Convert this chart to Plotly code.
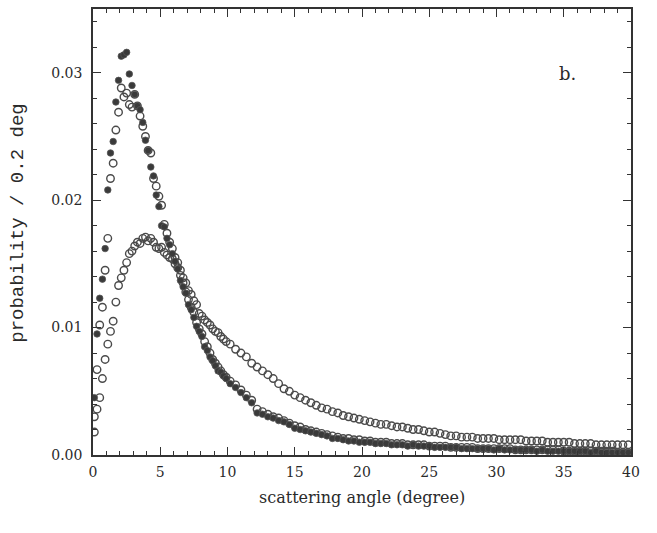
import numpy as np
import plotly.graph_objects as go

# bin centres (0.2 deg bins; tail shown every other bin)
x_head = [round(0.1 + 0.2 * i, 1) for i in range(50)]
x_tail = [round(10.2 + 0.4 * i, 1) for i in range(75)]
angles = x_head + x_tail

# narrow distribution, filled symbols
narrow_filled = [
    0.0045, 0.0095, 0.0123, 0.0138, 0.0162, 0.0208, 0.0237, 0.0246, 0.0277, 0.0294,
    0.0313, 0.0314, 0.0316, 0.0299, 0.0290, 0.0283, 0.0274, 0.0271, 0.0261, 0.0247,
    0.0239, 0.0226, 0.0219, 0.0204, 0.0195, 0.0180, 0.0179, 0.0170, 0.0165, 0.0158,
    0.0152, 0.0146, 0.0137, 0.0132, 0.0127, 0.0118, 0.0114, 0.0108, 0.0101, 0.0097,
    0.0093, 0.0085, 0.0082, 0.0077, 0.0074, 0.0070, 0.0066, 0.0065, 0.0062, 0.0060,
    0.0056, 0.0053, 0.0049, 0.0045, 0.0041, 0.0033, 0.0032, 0.0030, 0.0029, 0.0027,
    0.0026, 0.0024, 0.0021, 0.0020, 0.0019, 0.0018, 0.0017, 0.0016, 0.0015, 0.0013,
    0.0013, 0.0012, 0.0011, 0.0011, 0.0010, 0.0010, 0.0010, 0.0009, 0.0009, 0.0009,
    0.0008, 0.0008, 0.0008, 0.0007, 0.0008, 0.0007, 0.0007, 0.0007, 0.0006, 0.0006,
    0.0006, 0.0006, 0.0006, 0.0005, 0.0005, 0.0005, 0.0005, 0.0005, 0.0005, 0.0004,
    0.0005, 0.0004, 0.0004, 0.0004, 0.0004, 0.0004, 0.0004, 0.0003, 0.0004, 0.0003,
    0.0003, 0.0003, 0.0003, 0.0003, 0.0003, 0.0003, 0.0003, 0.0002, 0.0003, 0.0002,
    0.0002, 0.0002, 0.0002, 0.0002, 0.0002,
]

# narrow distribution, open symbols
narrow_open = [
    0.0030, 0.0067, 0.0102, 0.0116, 0.0145, 0.0170, 0.0217, 0.0229, 0.0255, 0.0269,
    0.0288, 0.0281, 0.0284, 0.0275, 0.0273, 0.0283, 0.0274, 0.0266, 0.0258, 0.0250,
    0.0239, 0.0237, 0.0217, 0.0211, 0.0203, 0.0196, 0.0181, 0.0174, 0.0167, 0.0162,
    0.0155, 0.0147, 0.0141, 0.0135, 0.0128, 0.0122, 0.0116, 0.0112, 0.0104, 0.0099,
    0.0095, 0.0089, 0.0085, 0.0080, 0.0075, 0.0072, 0.0069, 0.0066, 0.0063, 0.0061,
    0.0058, 0.0055, 0.0051, 0.0047, 0.0043, 0.0036, 0.0034, 0.0032, 0.0030, 0.0029,
    0.0027, 0.0025, 0.0023, 0.0022, 0.0020, 0.0019, 0.0018, 0.0017, 0.0016, 0.0015,
    0.0014, 0.0013, 0.0013, 0.0012, 0.0012, 0.0011, 0.0011, 0.0010, 0.0010, 0.0010,
    0.0009, 0.0009, 0.0009, 0.0008, 0.0008, 0.0008, 0.0008, 0.0007, 0.0007, 0.0007,
    0.0007, 0.0006, 0.0006, 0.0006, 0.0006, 0.0006, 0.0005, 0.0005, 0.0005, 0.0005,
    0.0005, 0.0005, 0.0005, 0.0004, 0.0004, 0.0004, 0.0004, 0.0004, 0.0004, 0.0004,
    0.0004, 0.0004, 0.0003, 0.0003, 0.0003, 0.0003, 0.0003, 0.0003, 0.0003, 0.0003,
    0.0003, 0.0003, 0.0002, 0.0002, 0.0002,
]

# broad distribution, open symbols
broad_open = [
    0.0018, 0.0036, 0.0045, 0.0060, 0.0075, 0.0087, 0.0097, 0.0105, 0.0120, 0.0133,
    0.0139, 0.0145, 0.0151, 0.0158, 0.0160, 0.0164, 0.0167, 0.0166, 0.0170, 0.0171,
    0.0168, 0.0170, 0.0167, 0.0163, 0.0162, 0.0163, 0.0159, 0.0157, 0.0155, 0.0154,
    0.0150, 0.0151, 0.0145, 0.0139, 0.0135, 0.0129, 0.0126, 0.0121, 0.0118, 0.0111,
    0.0109, 0.0106, 0.0104, 0.0102, 0.0099, 0.0097, 0.0096, 0.0093, 0.0091, 0.0089,
    0.0087, 0.0083, 0.0080, 0.0077, 0.0072, 0.0069, 0.0066, 0.0063, 0.0060, 0.0056,
    0.0052, 0.0050, 0.0047, 0.0045, 0.0043, 0.0041, 0.0039, 0.0037, 0.0036, 0.0034,
    0.0033, 0.0031, 0.0030, 0.0029, 0.0028, 0.0027, 0.0026, 0.0025, 0.0024, 0.0024,
    0.0023, 0.0022, 0.0022, 0.0021, 0.0020, 0.0020, 0.0019, 0.0018, 0.0018, 0.0017,
    0.0016, 0.0015, 0.0015, 0.0014, 0.0014, 0.0014, 0.0013, 0.0013, 0.0013, 0.0013,
    0.0012, 0.0012, 0.0012, 0.0012, 0.0012, 0.0011, 0.0011, 0.0011, 0.0011, 0.0010,
    0.0010, 0.0010, 0.0010, 0.0010, 0.0009, 0.0009, 0.0009, 0.0009, 0.0008, 0.0008,
    0.0008, 0.0008, 0.0008, 0.0008, 0.0008,
]

x_ticks = [0, 5, 10, 15, 20, 25, 30, 35, 40]
y_ticks = [0.00, 0.01, 0.02, 0.03]
y_tick_labels = ["0.00", "0.01", "0.02", "0.03"]

ink = "#3a3a3a"
fig = go.Figure()
fig.add_trace(go.Scatter(
    x=angles[:len(broad_open)], y=broad_open, mode="markers",
    marker=dict(symbol="circle-open", size=7.5, color="#4a4a4a", line=dict(width=1.4)),
    hoverinfo="skip"))
fig.add_trace(go.Scatter(
    x=angles[:len(narrow_open)], y=narrow_open, mode="markers",
    marker=dict(symbol="circle-open", size=7.5, color="#4a4a4a", line=dict(width=1.4)),
    hoverinfo="skip"))
fig.add_trace(go.Scatter(
    x=angles[:len(narrow_filled)], y=narrow_filled, mode="markers",
    marker=dict(symbol="circle", size=6.5, color=ink, line=dict(width=0.8, color="#555")),
    hoverinfo="skip"))

axis_common = dict(
    showline=True, linecolor="#333", linewidth=1.6, mirror="ticks",
    ticks="inside", ticklen=8, tickwidth=1.2, tickcolor="#333",
    showgrid=False, zeroline=False,
    tickfont=dict(family="DejaVu Serif", size=14, color="#2a2a2a"),
)
fig.update_xaxes(range=[0, 40], tickvals=x_ticks, ticklabelstandoff=3,
                 minor=dict(dtick=1, ticks="inside", ticklen=4, tickcolor="#333", tickwidth=1),
                 **axis_common)
fig.update_yaxes(range=[0, 0.035], tickvals=y_ticks, ticktext=y_tick_labels, ticklabelstandoff=6,
                 minor=dict(dtick=0.002, ticks="inside", ticklen=4, tickcolor="#333", tickwidth=1),
                 **axis_common)

fig.add_annotation(text="scattering angle (degree)", xref="paper", yref="paper",
                   x=0.5, y=-0.095, yanchor="middle", showarrow=False,
                   font=dict(family="DejaVu Serif", size=16, color="#2a2a2a"))
fig.add_annotation(text="probability / 0.2 deg", xref="paper", yref="paper",
                   x=-0.14, xanchor="center", y=0.52, textangle=-90, showarrow=False,
                   font=dict(family="Liberation Mono", size=19, color="#2a2a2a"))
fig.add_annotation(text="b.", xref="x", yref="y", x=35.3, y=0.0299, showarrow=False,
                   font=dict(family="DejaVu Serif", size=18, color="#2a2a2a"))

fig.update_layout(
    width=657, height=533,
    margin=dict(l=93, r=26, t=7, b=78),
    paper_bgcolor="white", plot_bgcolor="white",
    showlegend=False,
)
fig.write_html("out.html")
